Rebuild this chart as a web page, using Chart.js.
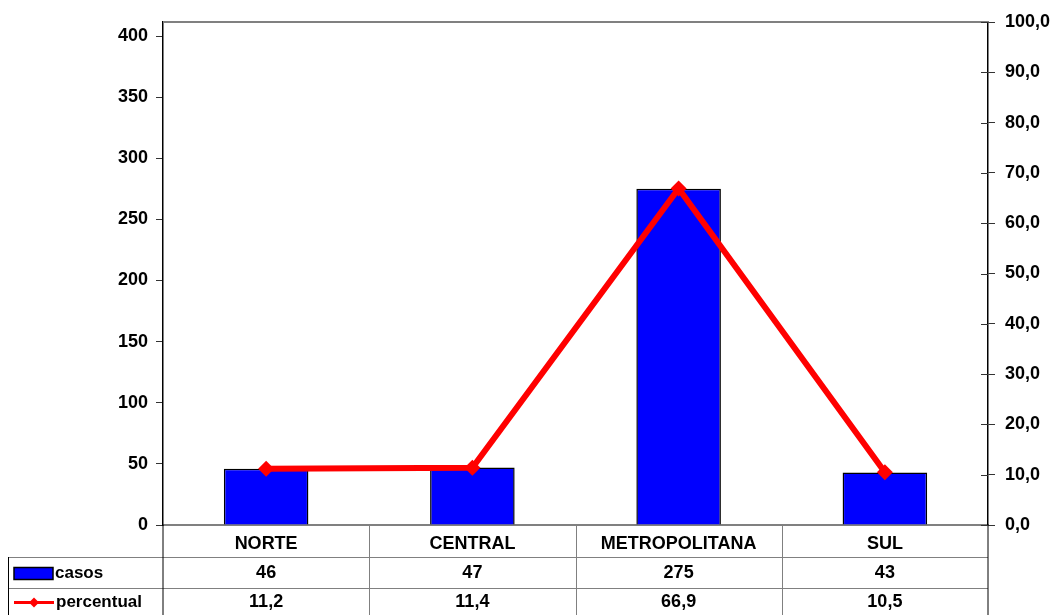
<!DOCTYPE html>
<html>
<head>
<meta charset="utf-8">
<script src="https://cdn.jsdelivr.net/npm/chart.js@4/dist/chart.umd.min.js"></script>
<style>
  html, body { margin: 0; padding: 0; background: #fff; }
  #wrap { width: 1059px; height: 615px; }
</style>
</head>
<body>
<div id="wrap"><canvas id="grafico" width="1059" height="615"></canvas></div>
<script>
// dados do gráfico
const regioes = ["NORTE", "CENTRAL", "METROPOLITANA", "SUL"];
const casos = [46, 47, 275, 43];
const percentual = [11.2, 11.4, 66.9, 10.5];
const nomeCasos = "casos";
const nomePercentual = "percentual";
// marcas dos eixos
const ticksCasos = [0, 50, 100, 150, 200, 250, 300, 350, 400];
const ticksPercentual = [0, 10, 20, 30, 40, 50, 60, 70, 80, 90, 100];

const fonte = "'Liberation Sans', Arial, sans-serif";

function virgula(v) {
  return v.toFixed(1).replace(".", ",");
}

// desenha a tabela de dados embaixo do gráfico
const tabelaPlugin = {
  id: "tabela",
  afterDraw(chart) {
    const ctx = chart.ctx;
    const x = chart.scales.x;
    const area = chart.chartArea;
    const yBase = area.bottom;
    const linha1 = 557, linha2 = 588, fim = 615, esq = 8;

    ctx.save();
    // borda de cima da área
    ctx.strokeStyle = "#808080";
    ctx.lineWidth = 2;
    ctx.beginPath();
    ctx.moveTo(area.left, area.top);
    ctx.lineTo(area.right, area.top);
    ctx.stroke();

    // linhas horizontais
    ctx.lineWidth = 1;
    ctx.strokeStyle = "#808080";
    ctx.beginPath();
    ctx.moveTo(esq, linha1 + 0.5); ctx.lineTo(area.right, linha1 + 0.5);
    ctx.moveTo(esq, linha2 + 0.5); ctx.lineTo(area.right, linha2 + 0.5);
    ctx.stroke();

    // separadores das colunas
    const passo = (x.right - x.left) / regioes.length;
    ctx.beginPath();
    for (let i = 1; i < regioes.length; i++) {
      const px = Math.round(x.left + passo * i) + 0.5;
      ctx.moveTo(px, yBase); ctx.lineTo(px, fim);
    }
    ctx.stroke();
    ctx.strokeStyle = "#000";
    ctx.beginPath();
    ctx.moveTo(esq + 0.5, linha1); ctx.lineTo(esq + 0.5, fim);
    ctx.moveTo(area.left, yBase); ctx.lineTo(area.left, fim);
    ctx.moveTo(area.right, yBase); ctx.lineTo(area.right, fim);
    ctx.stroke();

    // marcas do eixo da direita atravessam a linha
    const y1 = chart.scales.y1;
    ctx.strokeStyle = "#333";
    ctx.beginPath();
    for (const t of ticksPercentual) {
      const py = Math.round(y1.getPixelForValue(t)) + 0.5;
      ctx.moveTo(area.right - 7, py); ctx.lineTo(area.right, py);
    }
    ctx.stroke();

    // legenda da tabela
    const c1 = (linha1 + linha2) / 2 + 1, c2 = (linha2 + fim) / 2 + 1;
    ctx.fillStyle = "#0000FF";
    ctx.fillRect(14, c1 - 6, 39, 12);
    ctx.strokeStyle = "#000";
    ctx.lineWidth = 1.5;
    ctx.strokeRect(14, c1 - 6, 39, 12);

    ctx.strokeStyle = "#FF0000";
    ctx.lineWidth = 3;
    ctx.beginPath();
    ctx.moveTo(14, c2); ctx.lineTo(54, c2);
    ctx.stroke();
    ctx.fillStyle = "#FF0000";
    ctx.beginPath();
    ctx.moveTo(34, c2 - 5); ctx.lineTo(39, c2); ctx.lineTo(34, c2 + 5); ctx.lineTo(29, c2);
    ctx.closePath();
    ctx.fill();

    ctx.fillStyle = "#000";
    ctx.font = "bold 17px " + fonte;
    ctx.textBaseline = "middle";
    ctx.textAlign = "left";
    ctx.fillText(nomeCasos, 55, c1);
    ctx.fillText(nomePercentual, 56, c2);

    // valores
    ctx.font = "bold 18px " + fonte;
    ctx.textAlign = "center";
    for (let i = 0; i < regioes.length; i++) {
      const px = x.getPixelForValue(i);
      ctx.fillText(String(casos[i]), px, c1);
      ctx.fillText(virgula(percentual[i]), px, c2);
    }
    ctx.restore();
  }
};

const ctx = document.getElementById("grafico").getContext("2d");
const grafico = new Chart(ctx, {
  type: "bar",
  data: {
    labels: regioes,
    datasets: [
      {
        type: "line",
        label: nomePercentual,
        data: percentual,
        yAxisID: "y1",
        borderColor: "#FF0000",
        backgroundColor: "#FF0000",
        borderWidth: 6,
        pointStyle: "rectRot",
        pointRadius: 8,
        pointBorderWidth: 0,
        tension: 0,
        order: 1
      },
      {
        type: "bar",
        label: nomeCasos,
        data: casos,
        yAxisID: "y",
        backgroundColor: "#0000FF",
        borderColor: "#000000",
        borderWidth: 1.5,
        categoryPercentage: 1,
        barPercentage: 0.41,
        order: 2
      }
    ]
  },
  options: {
    responsive: false,
    animation: false,
    devicePixelRatio: 1,
    layout: { padding: { top: 22, left: 0, right: 0, bottom: 0 } },
    plugins: {
      legend: { display: false },
      tooltip: { enabled: false }
    },
    scales: {
      x: {
        offset: true,
        grid: { display: false, drawTicks: false },
        border: { color: "#808080", width: 2 },
        ticks: {
          color: "#000",
          padding: 8,
          maxRotation: 0,
          font: { family: fonte, size: 18, weight: "bold" }
        },
        afterFit(scale) { scale.height = 90; }
      },
      y: {
        position: "left",
        min: 0,
        max: 411.5,
        afterBuildTicks(axis) {
          axis.ticks = ticksCasos.map(v => ({ value: v }));
        },
        ticks: {
          color: "#000",
          padding: 8,
          font: { family: fonte, size: 18, weight: "bold" }
        },
        grid: { drawOnChartArea: false, tickLength: 7, color: "#333" },
        border: { color: "#000", width: 1.5 },
        afterFit(scale) { scale.width = 163; }
      },
      y1: {
        position: "right",
        min: 0,
        max: 100,
        afterBuildTicks(axis) {
          axis.ticks = ticksPercentual.map(v => ({ value: v }));
        },
        ticks: {
          color: "#000",
          padding: 10,
          font: { family: fonte, size: 18, weight: "bold" },
          callback: v => virgula(v)
        },
        grid: { drawOnChartArea: false, tickLength: 7, color: "#333" },
        border: { color: "#000", width: 1.5 },
        afterFit(scale) { scale.width = 71; }
      }
    }
  },
  plugins: [tabelaPlugin]
});
</script>
</body>
</html>
